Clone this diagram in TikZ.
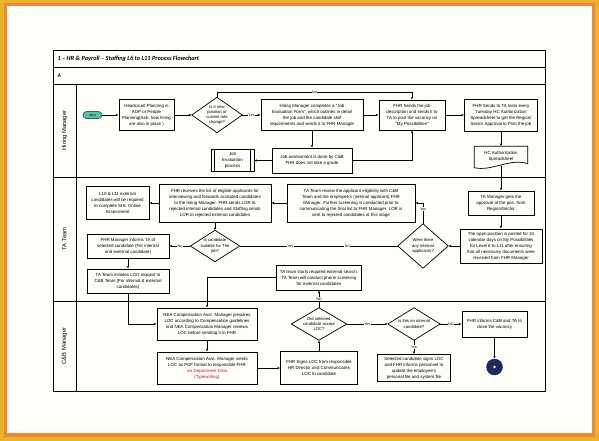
\documentclass[tikz,border=0pt]{standalone}
\usepackage{fontspec}
\setmainfont{Liberation Sans}
\newfontfamily\titlefont{Carlito}
\usetikzlibrary{arrows.meta, shapes.geometric, calc}

\definecolor{frameyellow}{HTML}{E9B42A}
\definecolor{frameorange}{HTML}{F0873A}
\definecolor{paper}{HTML}{FFFDF8}
\definecolor{startteal}{HTML}{5BBFA5}
\definecolor{startedge}{HTML}{1F6F5C}
\definecolor{endnavy}{HTML}{1C2B5C}
\definecolor{linkred}{HTML}{B22222}

\begin{document}
\begin{tikzpicture}[x=1pt, y=-1pt,
box/.style={draw, align=center, inner sep=1pt, line width=0.7pt, font=\fontsize{4.4}{6}\selectfont},
decision/.style={rectangle, align=center, inner sep=0pt, font=\fontsize{4.2}{5.2}\selectfont},
docbox/.style={rectangle, align=center, inner sep=1pt, font=\fontsize{4.4}{6}\selectfont},
startnode/.style={draw=startedge, fill=startteal, rounded corners=3.5pt, minimum width=19, minimum height=7, inner sep=0pt, line width=0.7pt, font=\fontsize{3}{3}\selectfont},
endnode/.style={circle, draw=endnavy, fill=endnavy, minimum size=16, inner sep=0pt},
lane/.style={rotate=90, font=\fontsize{5.8}{7}\selectfont},
lbl/.style={fill=paper, inner sep=0.5pt, font=\fontsize{3.6}{4}\selectfont},
arrow/.style={-{Latex[length=2.6pt, width=2.2pt]}, line width=0.6pt}
]

% frame
\fill[frameyellow] (0,0) rectangle (599,441);
\fill[frameorange] (4,3) rectangle (595,437);
\fill[paper] (7,6) rectangle (592,433);
\useasboundingbox (0,0) rectangle (599,441);

% pool and lanes
\draw[line width=0.8pt] (53,50) rectangle (545,391);
\foreach \y in {67,84,177,301}
  \draw[line width=0.7pt] (53,\y) -- (545,\y);
\draw[line width=0.7pt] (76,84) -- (76,391);

\node[anchor=west, font=\titlefont\bfseries\itshape\fontsize{6.3}{8}\selectfont] (title) at (54,58.5) {1 – HR \& Payroll – Staffing L6 to L11 Process Flowchart};
\node[anchor=west, font=\titlefont\bfseries\itshape\fontsize{5.5}{7}\selectfont] (pagea) at (54,75.5) {A};

\node[lane] (lanehm) at (64.5,130.5) {Hiring Manager};
\node[lane] (laneta) at (64.5,239) {TA Team};
\node[lane] (lanecb) at (64.5,346) {C\&B Manager};

% hiring manager
\node[startnode] (hm1) at (92.5,115) {Start};
\node[box, minimum width=55, minimum height=31] (hm2) at (146.5,115) {Headcount Planning in\\AOP or People\\Planning(Ask: how hiring\\are also in place )};
\node[decision, minimum width=50, minimum height=35] (hm3) at (217,115) {Is it new\\position or\\current role\\change?};
\node[box, minimum width=102, minimum height=31] (hm4) at (312,115) {Hiring Manager completes a “Job\\Evaluation Form”, which outlines in detail\\the job and the candidate skill\\requirements and sends it to FHR Manager};
\node[box, minimum width=66, minimum height=30] (hm5) at (412,115) {FHR Sends the job\\description and sends it to\\TA to post the vacancy on\\“My Possibilities”};
\node[box, minimum width=73, minimum height=32] (hm6) at (501,115) {FHR Sends to TA tests every\\Tuesday HC Authorization\\Spreadsheet to get the Region/\\Sector Approval to Post the job};
\node[docbox, minimum width=53, minimum height=19] (hm7) at (501,156) {HC Authorization\\Spreadsheet};
\node[box, minimum width=80, minimum height=25] (hm8) at (312,160.5) {Job assessment is done by C\&B\\FHR does not take a grade};
\node[box, minimum width=43, minimum height=22] (hm9) at (232.5,160.5) {Job\\Evaluation\\process};

\draw[line width=0.7pt] (hm7.north west) -- (hm7.north east) -- ($(hm7.south east)+(0,-2)$)
  .. controls ($(hm7.south)+(9,-8)$) and ($(hm7.south)+(-9,6)$) .. ($(hm7.south west)+(0,2)$) -- cycle;
\draw[line width=0.6pt] ($(hm9.north west)+(4,0)$) -- ($(hm9.south west)+(4,0)$);
\draw[line width=0.6pt] ($(hm9.north east)+(-4,0)$) -- ($(hm9.south east)+(-4,0)$);

\draw[arrow] (hm1) -- (hm2);
\draw[arrow] (hm2) -- (hm3);
\draw[arrow] (hm3) -- node[lbl]{Yes} (hm4);
\draw[arrow] (hm3.north) -- (hm3.north |- 0,92) -| node[lbl, pos=0.25]{No} (hm5.north);
\draw[arrow] (hm4) -- (hm5);
\draw[arrow] (hm5) -- (hm6);
\draw[arrow] (hm6) -- (hm7);
\draw[arrow] (hm4) -- (hm8);
\draw[arrow] (hm8) -- (hm9);
\draw[arrow] (hm8.east) -| (hm5.south);

% TA team
\node[box, minimum width=66, minimum height=24] (ta1) at (501,203) {TA Manager gets the\\approval of the pos. from\\Region/Sector};
\node[box, minimum width=82, minimum height=34] (ta2) at (501,246) {The open position is posted for 10\\calendar days on My Possibilities\\for Level 6 to L11 after ensuring\\that all necessary documents were\\received from FHR Manager};
\node[decision, minimum width=50, minimum height=44] (ta3) at (423,246) {Were there\\any internal\\applicants?};
\node[box, minimum width=128, minimum height=38] (ta4) at (351,203) {TA Team review the applicant eligibility with C\&B\\Team and the employee's (internal applicant) FHR\\Manager. Further screening is conducted prior to\\communicating the final list to FHR Manager. LOR is\\sent to rejected candidates at this stage};
\node[box, minimum width=112, minimum height=38] (ta5) at (215,203) {FHR receives the list of eligible applicants for\\interviewing and forwards accepted candidates\\to the hiring Manager. FHR sends LOR to\\rejected internal candidates and Staffing sends\\LOR to rejected external candidates};
\node[box, minimum width=63, minimum height=33] (ta6) at (117.5,203) {L10 \& L11 external\\candidates will be required\\to complete SHL Online\\Assessment};
\node[decision, minimum width=49, minimum height=31] (ta7) at (215,246) {Is candidate\\suitable for The\\job?};
\node[box, minimum width=82, minimum height=24] (ta8) at (128,246) {FHR Manager informs TA of\\selected candidate (For internal\\and external candidate)};
\node[box, minimum width=82, minimum height=24] (ta9) at (128,281) {TA Team initiates LOO request to\\C\&B Team (For internal \& external\\candidates)};
\node[box, minimum width=85, minimum height=25] (ta10) at (319,277.5) {TA team starts required external search.\\TA Team will conduct phone screening\\for external candidates};

% C&B manager
\node[box, minimum width=100, minimum height=32] (cb1) at (207,324) {NEA Compensation Asst. Manager prepares\\LOC according to Compensation guidelines\\and NEA Compensation Manager reviews\\LOC before sending it to FHR};
\node[box, minimum width=100, minimum height=32] (cb2) at (207,368) {NEA Compensation Asst. Manager sends\\LOC as PDF format to responsible FHR\\\textcolor{linkred}{via Department Data}\\\textcolor{linkred}{(Typewriting)}};
\node[box, minimum width=77, minimum height=33] (cb3) at (319,368) {FHR Signs LOC from responsible\\HR Director and Communicates\\LOC to candidate};
\node[decision, minimum width=55, minimum height=32] (cb4) at (319,324) {Did selected\\candidate accept\\LOC?};
\node[decision, minimum width=52, minimum height=32] (cb5) at (414,324) {Is this an internal\\candidate?};
\node[box, minimum width=65, minimum height=26] (cb6) at (494.5,324) {FHR informs C\&B and TA to\\close the vacancy};
\node[box, minimum width=73, minimum height=27] (cb7) at (414,368) {Selected candidate signs LOC\\and FHR informs personnel to\\update the employee's\\personal file and system file};
\node[endnode] (cb8) at (494.5,367) {};
\fill[white] (cb8) circle (1.4);

\foreach \d in {hm3,ta3,ta7,cb4,cb5}
  \draw[line width=0.7pt] (\d.north) -- (\d.east) -- (\d.south) -- (\d.west) -- cycle;

\draw[arrow] (hm7) -- (ta1);
\draw[arrow] (ta1) -- (ta2);
\draw[arrow] (ta2) -- (ta3);
\draw[arrow] (ta3.north) |- node[lbl, pos=0.35]{Yes} (ta4.east);
\draw[line width=0.6pt] (ta3) -- node[lbl, pos=0.32]{No} node[lbl, pos=0.68]{Yes} (ta7);
\draw[arrow] (ta4) -- (ta5);
\draw[arrow] (ta5) -- (ta6);
\draw[arrow] (ta5) -- (ta7);
\draw[arrow] (ta7) -- node[lbl]{No} (ta8);
\draw[arrow] (ta8) -- (ta9);
\draw[arrow] (ta9.south) |- (cb1.west);
\draw[arrow] (ta10.west) -| (cb1.north);
\draw[arrow] (cb4) -- node[lbl, pos=0.5]{NO} (ta10);

\draw[arrow] (cb1) -- (cb2);
\draw[arrow] (cb2) -- (cb3);
\draw[arrow] (cb3) -- (cb4);
\draw[arrow] (cb4) -- node[lbl]{Yes} (cb5);
\draw[arrow] (cb5) -- node[lbl]{NO} (cb6);
\draw[arrow] (cb5) -- node[lbl]{Yes} (cb7);
\draw[arrow] (cb6) -- (cb8);

\end{tikzpicture}
\end{document}
